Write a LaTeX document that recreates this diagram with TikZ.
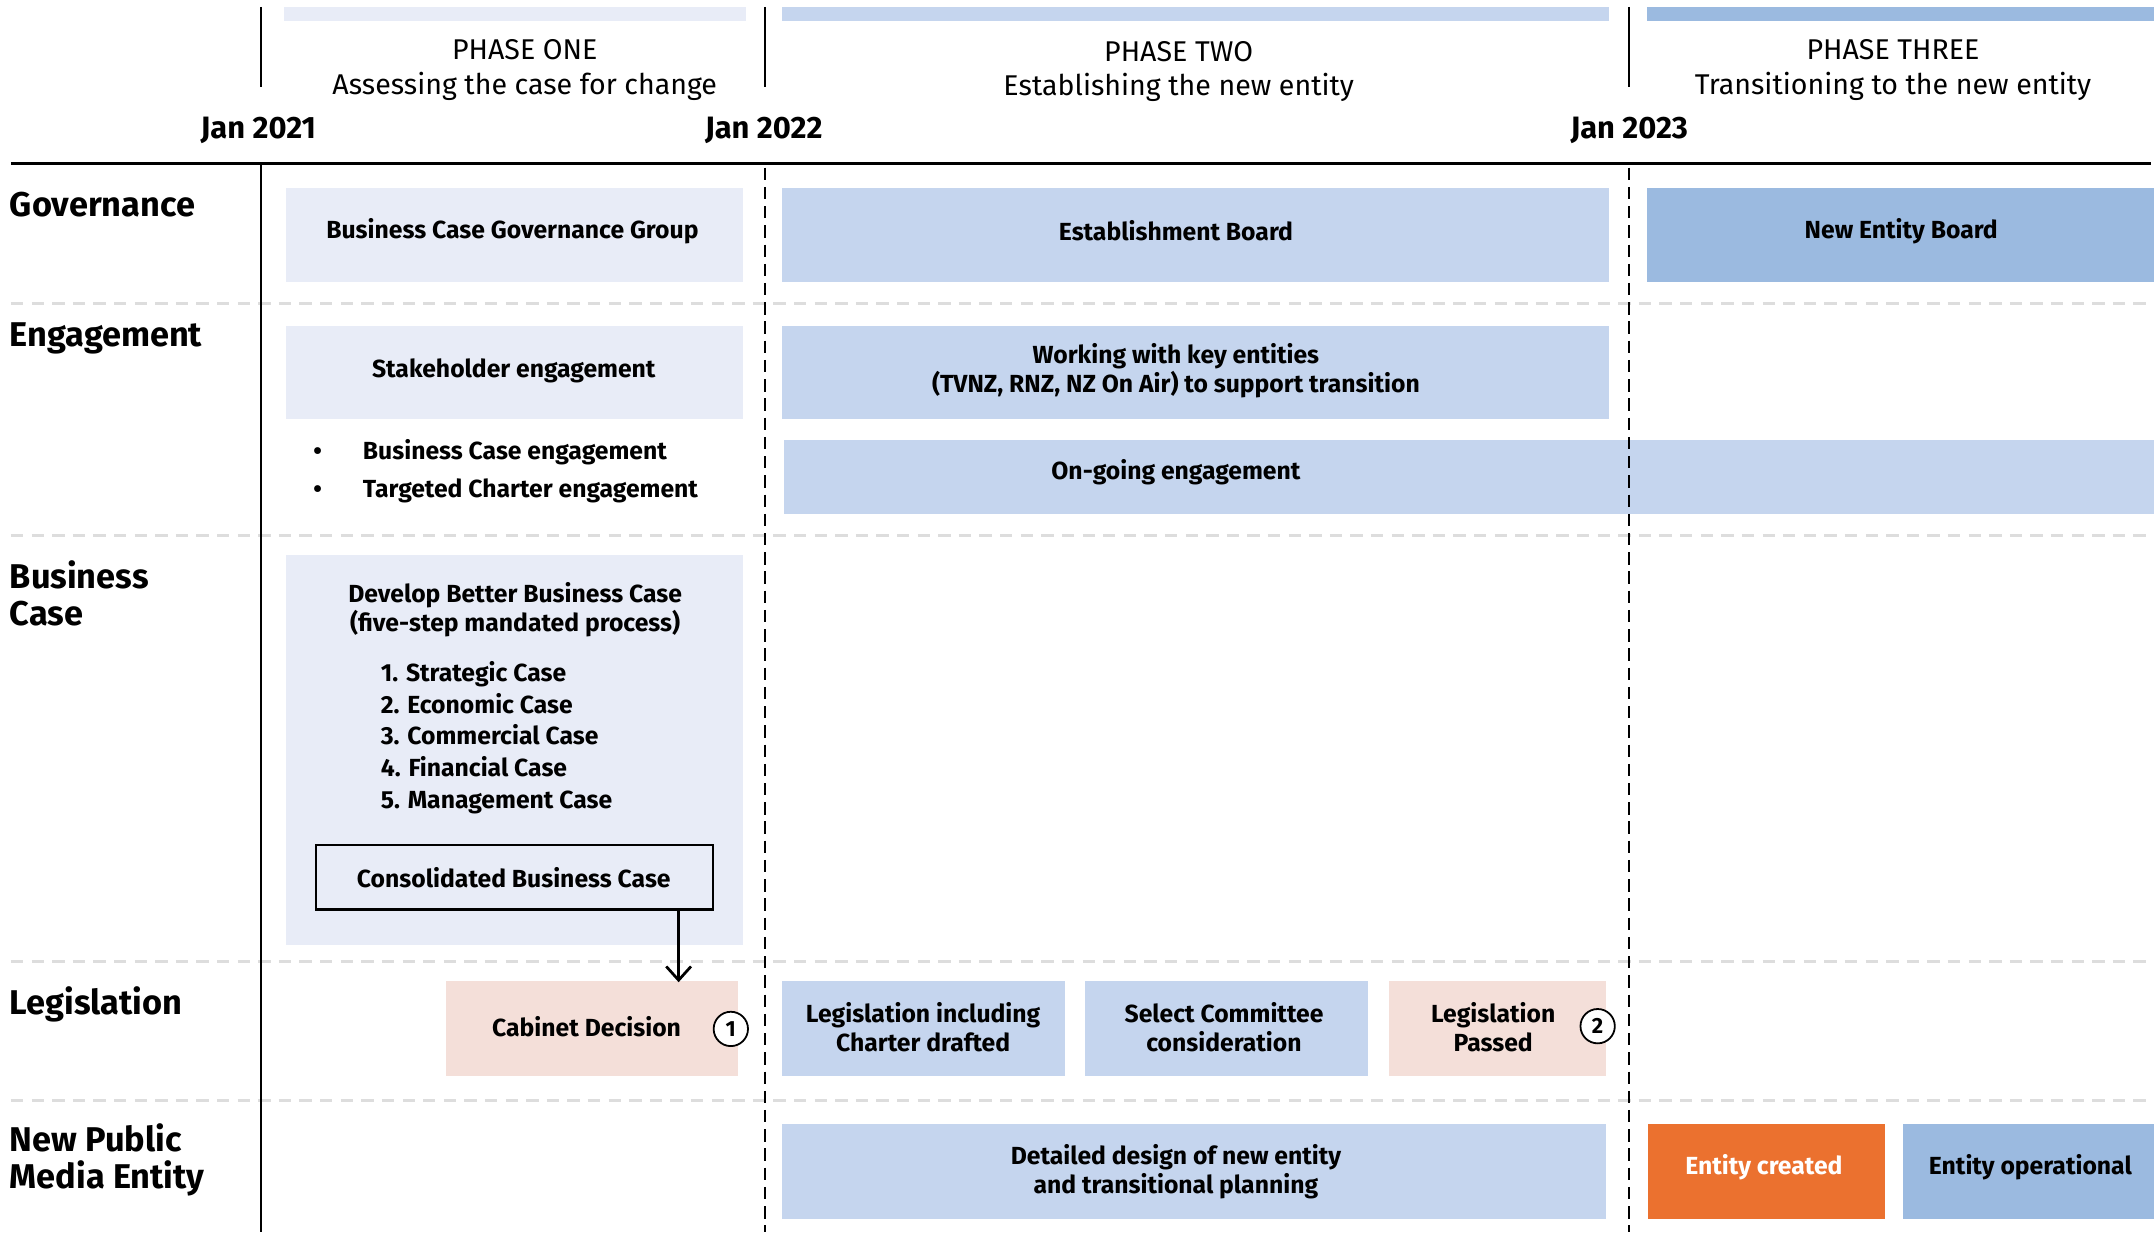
\documentclass[tikz,border=0pt]{standalone}
\usepackage{fontspec}
\setmainfont{Fira Sans}
\usetikzlibrary{arrows.meta}
\definecolor{pOne}{HTML}{E8ECF7}
\definecolor{pTwo}{HTML}{C5D5EE}
\definecolor{pThree}{HTML}{9BBAE0}
\definecolor{pinkbox}{HTML}{F4DFD9}
\definecolor{orangebox}{HTML}{EB712F}
\definecolor{sepgrey}{HTML}{DDDDDD}
\tikzset{
  box/.style={rectangle, inner sep=0pt, outer sep=0pt, draw=none},
  lbl/.style={font=\bfseries\fontsize{18}{21}\selectfont, align=center, inner sep=0pt},
  rowlbl/.style={font=\bfseries\fontsize{25}{27}\selectfont, align=left, anchor=west, inner sep=0pt},
  phasetxt/.style={font=\fontsize{20.8}{25}\selectfont, align=center, inner sep=0pt},
  datetxt/.style={font=\bfseries\fontsize{22.5}{24}\selectfont, inner sep=0pt},
  sepline/.style={sepgrey, line width=2pt, dash pattern=on 9pt off 6pt},
  yearline/.style={black, line width=1.6pt, dash pattern=on 9pt off 5pt},
  numcirc/.style={circle, draw=black, line width=1.3pt, fill=white, minimum size=25pt, inner sep=0pt, font=\bfseries\fontsize{16}{16}\selectfont},
}
\begin{document}
\begin{tikzpicture}[x=1pt,y=-1pt]
\useasboundingbox (0,0) rectangle (1568,897);
% phase bars
\fill[pOne] (207,5) rectangle (543,15);
\fill[pTwo] (569,5) rectangle (1171,15);
\fill[pThree] (1199,5) rectangle (1568,15);
% header ticks
\draw[line width=1.6pt] (190,5) -- (190,63);
\draw[line width=1.6pt] (557,5) -- (557,63);
\draw[line width=1.6pt] (1186,5) -- (1186,63);
% phase titles
\node[phasetxt] (ph1) at (382,51) {PHASE ONE\\Assessing the case for change};
\node[phasetxt] (ph2) at (858,52) {PHASE TWO\\Establishing the new entity};
\node[phasetxt] (ph3) at (1378,51) {PHASE THREE\\Transitioning to the new entity};
% dates
\node[datetxt] (d1) at (188,95) {Jan 2021};
\node[datetxt] (d2) at (556,95) {Jan 2022};
\node[datetxt] (d3) at (1186,95) {Jan 2023};
% axis
\draw[line width=2pt] (8,119) -- (1566,119);
% row separators
\foreach \yy in {221,390,700,801} \draw[sepline] (8,\yy) -- (1568,\yy);
% row labels
\node[rowlbl] (rgov) at (7,149) {Governance};
\node[rowlbl] (reng) at (7,246) {Engagement};
\node[rowlbl] (rbc) at (7,432) {Business\\Case};
\node[rowlbl] (rleg) at (7,731) {Legislation};
\node[rowlbl] (rnpme) at (7,844) {New Public\\Media Entity};
% governance
\node[box, fill=pOne, minimum width=333pt, minimum height=68pt] (bcgg) at (374.5,171) {};
\node[lbl] at (373,168) {Business Case Governance Group};
\node[box, fill=pTwo, minimum width=602pt, minimum height=68pt] (estb) at (870,171) {};
\node[lbl] (estbt) at (856,168) {Establishment Board};
\node[box, fill=pThree, minimum width=369pt, minimum height=68pt] (neb) at (1383.5,171) {};
\node[lbl] at (1384,168) {New Entity Board};
% engagement
\node[box, fill=pOne, minimum width=333pt, minimum height=68pt] (stk) at (374.5,271) {};
\node[lbl] at (374,270) {Stakeholder engagement};
\node[box, fill=pTwo, minimum width=602pt, minimum height=68pt] (wke) at (870,271) {};
\node[lbl] at (856,270) {Working with key entities\\(TVNZ, RNZ, NZ On Air) to support transition};
\node[lbl, align=left, anchor=west, font=\bfseries\fontsize{18}{28}\selectfont] (bul) at (228,343)
  {\makebox[36pt][l]{•}Business Case engagement\\\makebox[36pt][l]{•}Targeted Charter engagement};
\node[box, fill=pTwo, minimum width=997pt, minimum height=54pt] (ong) at (1069.5,347) {};
\node[lbl] at (856,344) {On-going engagement};
% business case
\node[box, fill=pOne, minimum width=333pt, minimum height=284pt] (bc) at (374.5,546) {};
\node[lbl] (bct) at (375,444) {Develop Better Business Case\\(five-step mandated process)};
\node[lbl, align=left, anchor=west, font=\bfseries\fontsize{18}{23}\selectfont] (bcl) at (277,537)
  {1. Strategic Case\\2. Economic Case\\3. Commercial Case\\4. Financial Case\\5. Management Case};
\node[box, draw=black, line width=1.6pt, fill=pOne, minimum width=289pt, minimum height=47pt] (cbc) at (374.5,638.5) {};
\node[lbl] at (374,639) {Consolidated Business Case};
% legislation
\node[box, fill=pinkbox, minimum width=212pt, minimum height=69pt] (cab) at (431,748.5) {};
\node[lbl] at (427,747) {Cabinet Decision};
\node[box, fill=pTwo, minimum width=206pt, minimum height=69pt] (ldr) at (672,748.5) {};
\node[lbl] at (672,748) {Legislation including\\Charter drafted};
\node[box, fill=pTwo, minimum width=206pt, minimum height=69pt] (scc) at (893,748.5) {};
\node[lbl] at (891,748) {Select Committee\\consideration};
\node[box, fill=pinkbox, minimum width=158pt, minimum height=69pt] (lp) at (1090,748.5) {};
\node[lbl] at (1087,748) {Legislation\\Passed};
% new public media entity
\node[box, fill=pTwo, minimum width=600pt, minimum height=69pt] (dd) at (869,852.5) {};
\node[lbl] at (856,853) {Detailed design of new entity\\and transitional planning};
\node[box, fill=orangebox, minimum width=172pt, minimum height=69pt] (ec) at (1286,852.5) {};
\node[lbl, text=white] at (1284,850) {Entity created};
\node[box, fill=pThree, minimum width=183pt, minimum height=69pt] (eo) at (1476.5,852.5) {};
\node[lbl] at (1478,850) {Entity operational};
% vertical lines
\draw[line width=1.6pt] (190,119) -- (190,897);
\draw[yearline] (557,122) -- (557,897);
\draw[yearline] (1186,122) -- (1186,897);
% arrow
\draw[line width=2pt, -{Straight Barb[length=10pt,width=18pt,line width=2pt]}] ([xshift=-25pt]cbc.south east) -- ([xshift=-25pt,yshift=-1pt]cbc.south east |- cab.north);
% circles
\node[numcirc] (c1) at (532,749) {1};
\node[numcirc] (c2) at (1163,747) {2};
\end{tikzpicture}
\end{document}
